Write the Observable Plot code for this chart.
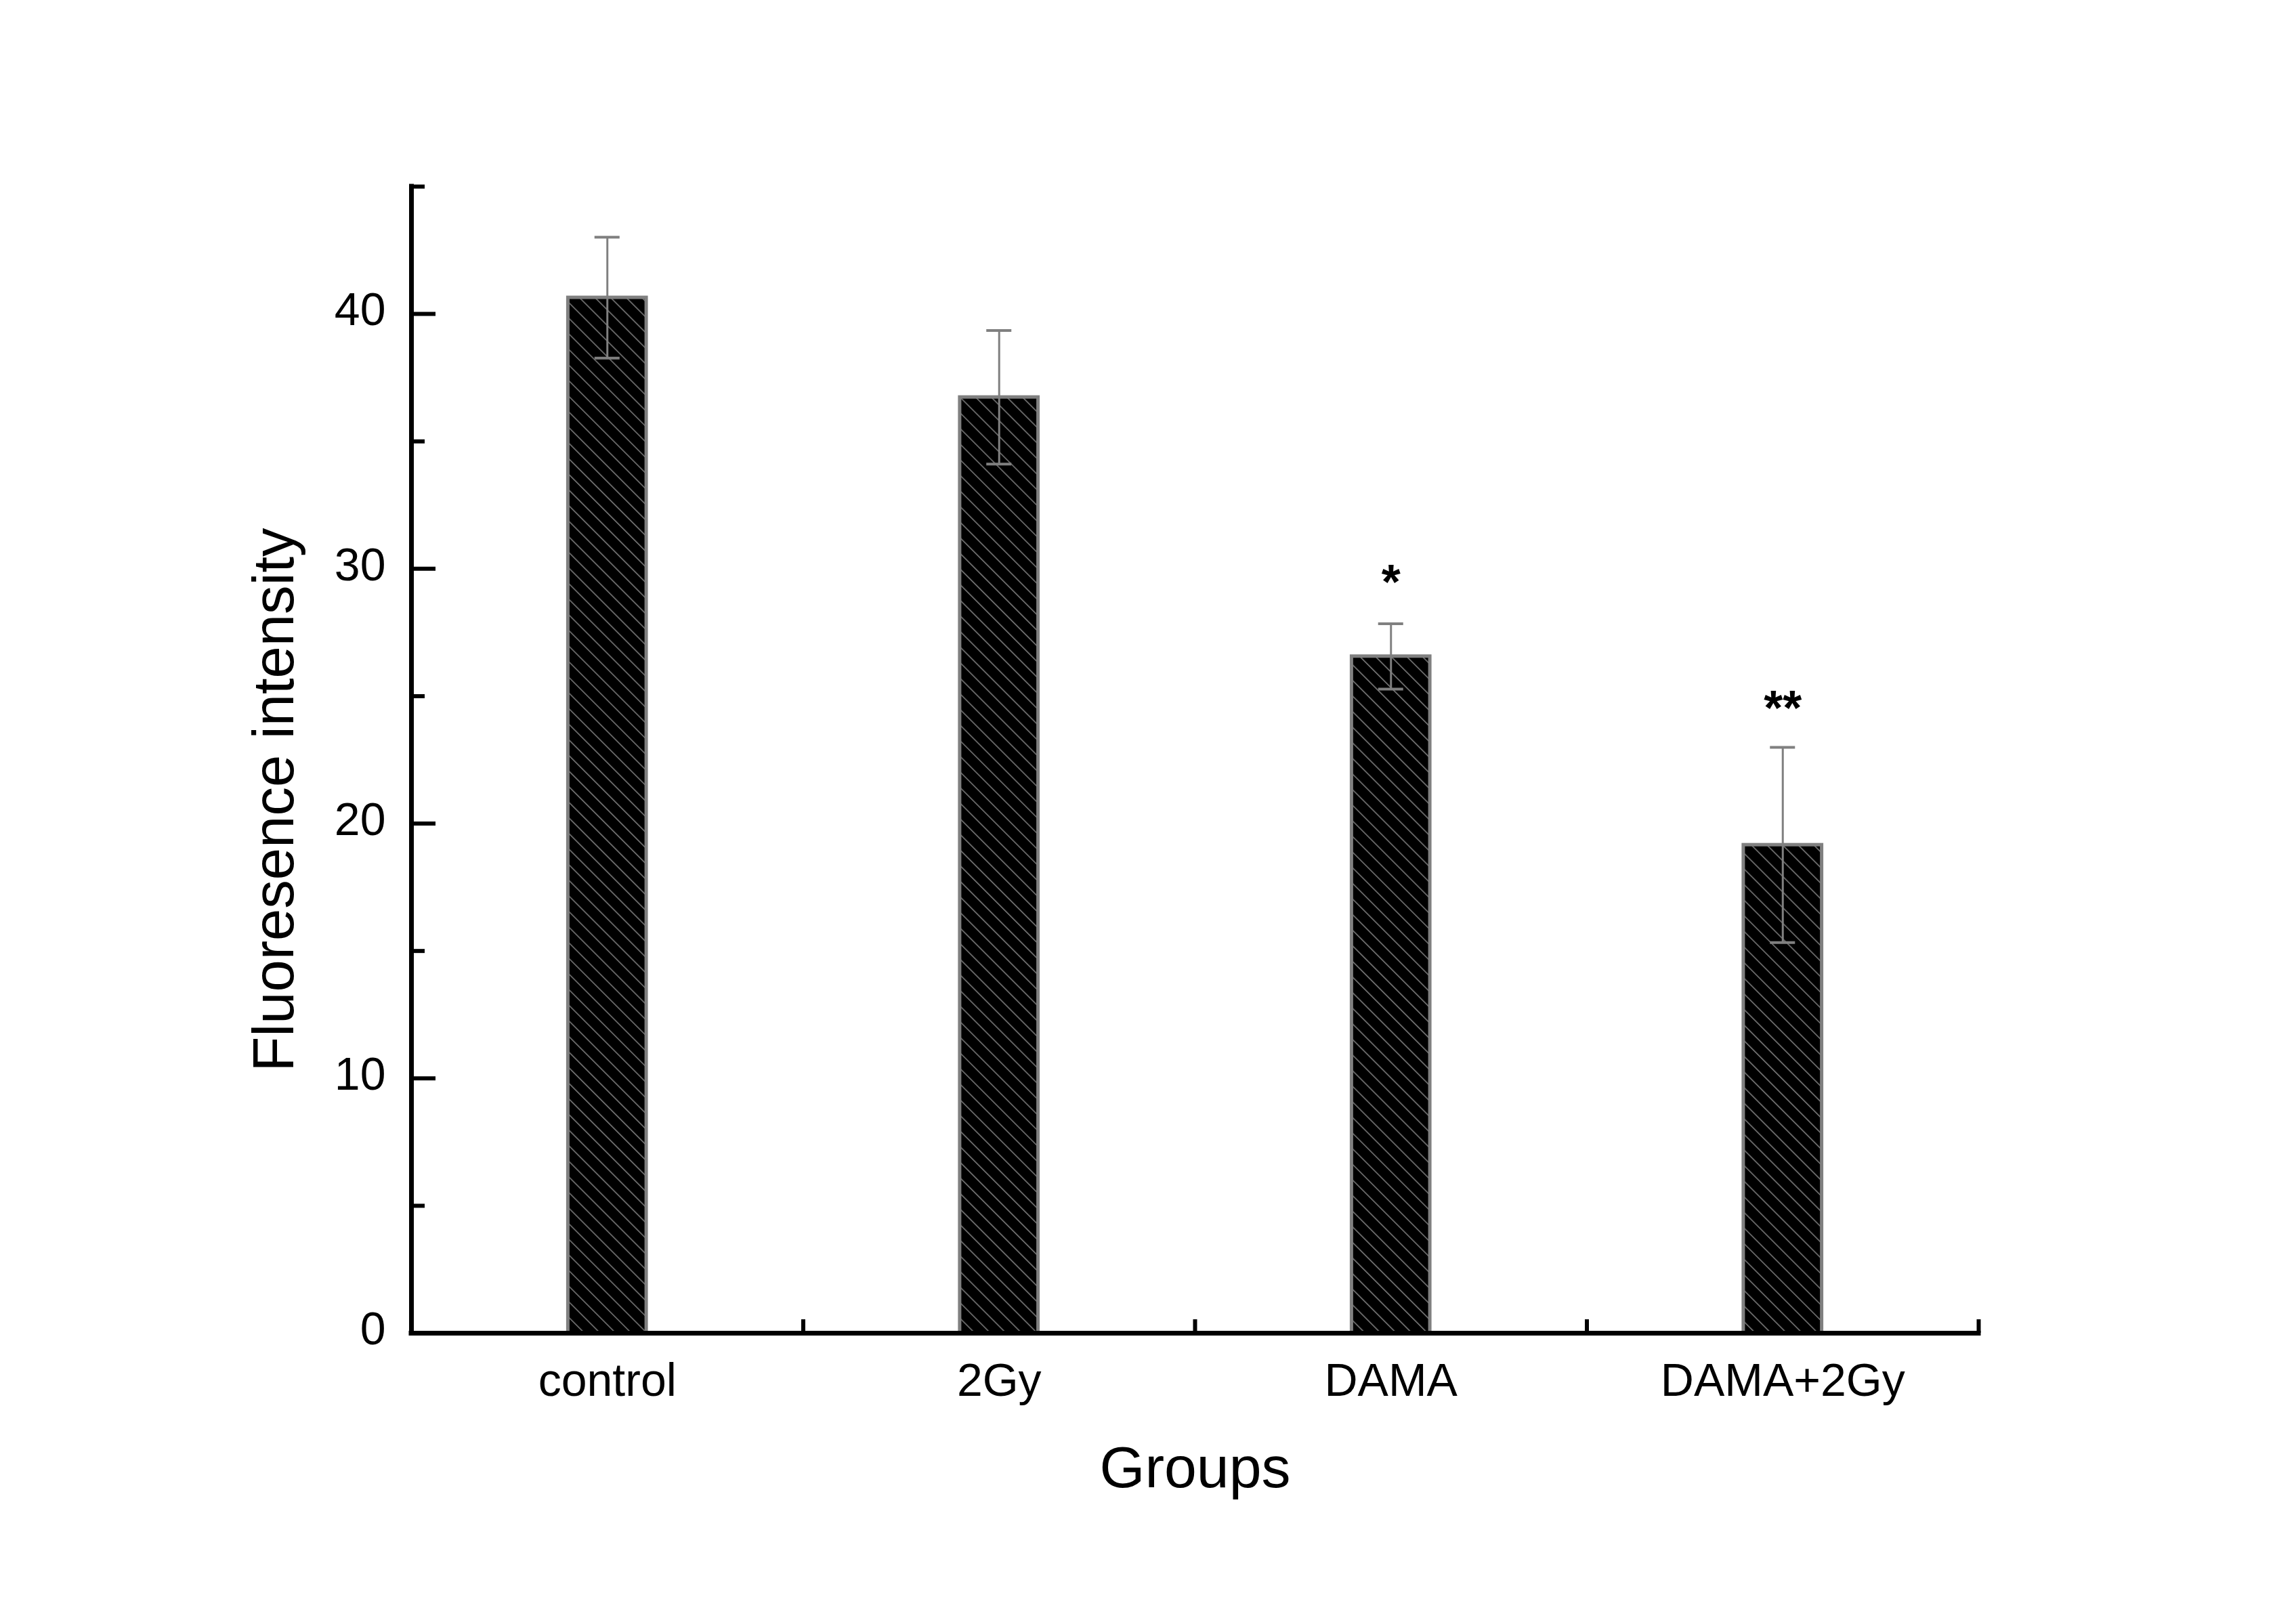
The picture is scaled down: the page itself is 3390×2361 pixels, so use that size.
<!DOCTYPE html>
<html>
<head>
<meta charset="utf-8">
<script src="https://cdn.jsdelivr.net/npm/d3@7"></script>
<script src="https://cdn.jsdelivr.net/npm/@observablehq/plot@0.6"></script>
<style>
  html, body { margin: 0; padding: 0; background: #fff; overflow: hidden; }
  #chart svg { display: block; }
</style>
</head>
<body>
<div id="chart"></div>
<script>
// ---- data ----
const groups = ["control", "2Gy", "DAMA", "DAMA+2Gy"];
const means = [40.64, 36.73, 26.56, 19.16];
const errors = [2.37, 2.62, 1.28, 3.83];
const sigLabels = ["", "", "*", "**"];
const sigY = [null, null, 29.45, 24.5];
const majorTicks = [0, 10, 20, 30, 40];
const minorTicks = [5, 15, 25, 35, 45];
const groupBounds = [0.5, 1.5, 2.5, 3.5];

const rows = groups.map((g, i) => ({i, g, mean: means[i], err: errors[i], sig: sigLabels[i], sy: sigY[i]}));

const W = 3390, H = 2361;
const mL = 607, mR = 469, mT = 275, mB = 393;
const frameW = W - mL - mR, frameH = H - mT - mB;
const barHalf = 0.1, capHalf = 0.032;
const grey = "#808080";

const chart = Plot.plot({
  width: W, height: H,
  marginLeft: mL, marginRight: mR, marginTop: mT, marginBottom: mB,
  style: {fontFamily: "'Liberation Sans', Arial, sans-serif", background: "#fff", color: "#000"},
  x: {domain: [-0.5, 3.5]},
  y: {domain: [0, 45]},
  marks: [
    Plot.rectY(rows, {x1: d => d.i - barHalf, x2: d => d.i + barHalf, y1: 0, y2: "mean",
      fill: "url(#hatch)", stroke: grey, strokeWidth: 5}),
    Plot.ruleX(rows, {x: "i", y1: d => d.mean - d.err, y2: d => d.mean + d.err, stroke: grey, strokeWidth: 3}),
    Plot.ruleY(rows, {y: d => d.mean + d.err, x1: d => d.i - capHalf, x2: d => d.i + capHalf, stroke: grey, strokeWidth: 4}),
    Plot.ruleY(rows, {y: d => d.mean - d.err, x1: d => d.i - capHalf, x2: d => d.i + capHalf, stroke: grey, strokeWidth: 4}),
    Plot.text(rows.filter(d => d.sig), {x: "i", y: "sy", text: "sig", fontSize: 72, fontWeight: "bold", fill: "#000"}),
    // axis lines
    Plot.ruleX([-0.5], {stroke: "#000", strokeWidth: 7, strokeLinecap: "square"}),
    Plot.ruleY([0], {stroke: "#000", strokeWidth: 7, strokeLinecap: "square"}),
    // inward ticks
    Plot.ruleY(majorTicks.filter(v => v !== 0), {insetRight: frameW - 36, stroke: "#000", strokeWidth: 6}),
    Plot.ruleY(minorTicks, {insetRight: frameW - 20, stroke: "#000", strokeWidth: 6}),
    Plot.ruleX(groupBounds, {insetTop: frameH - 20, stroke: "#000", strokeWidth: 6}),
    Plot.axisY({ticks: majorTicks, tickSize: 0, tickPadding: 38, fontSize: 68, dy: -5, label: null}),
    Plot.axisX({ticks: [0, 1, 2, 3], tickFormat: i => groups[i], tickSize: 0, tickPadding: 44, fontSize: 68, label: null}),
    Plot.text(["Groups"], {frameAnchor: "bottom", dy: 200, fontSize: 86, fill: "#000", lineAnchor: "middle"}),
    Plot.text(["Fluoresence intensity"], {frameAnchor: "left", textAnchor: "middle", dx: -202, dy: 59, rotate: -90, fontSize: 85, fill: "#000", lineAnchor: "middle"})
  ]
});

// hatch pattern definition
const ns = "http://www.w3.org/2000/svg";
const defs = document.createElementNS(ns, "defs");
defs.innerHTML = `<pattern id="hatch" patternUnits="userSpaceOnUse" width="16.3" height="16.3" patternTransform="rotate(-45)">
  <rect width="16.3" height="16.3" fill="#000"/>
  <line x1="0" y1="0" x2="0" y2="16.3" stroke="${grey}" stroke-width="3"/>
</pattern>`;
chart.insertBefore(defs, chart.firstChild);
document.getElementById("chart").appendChild(chart);
</script>
</body>
</html>
